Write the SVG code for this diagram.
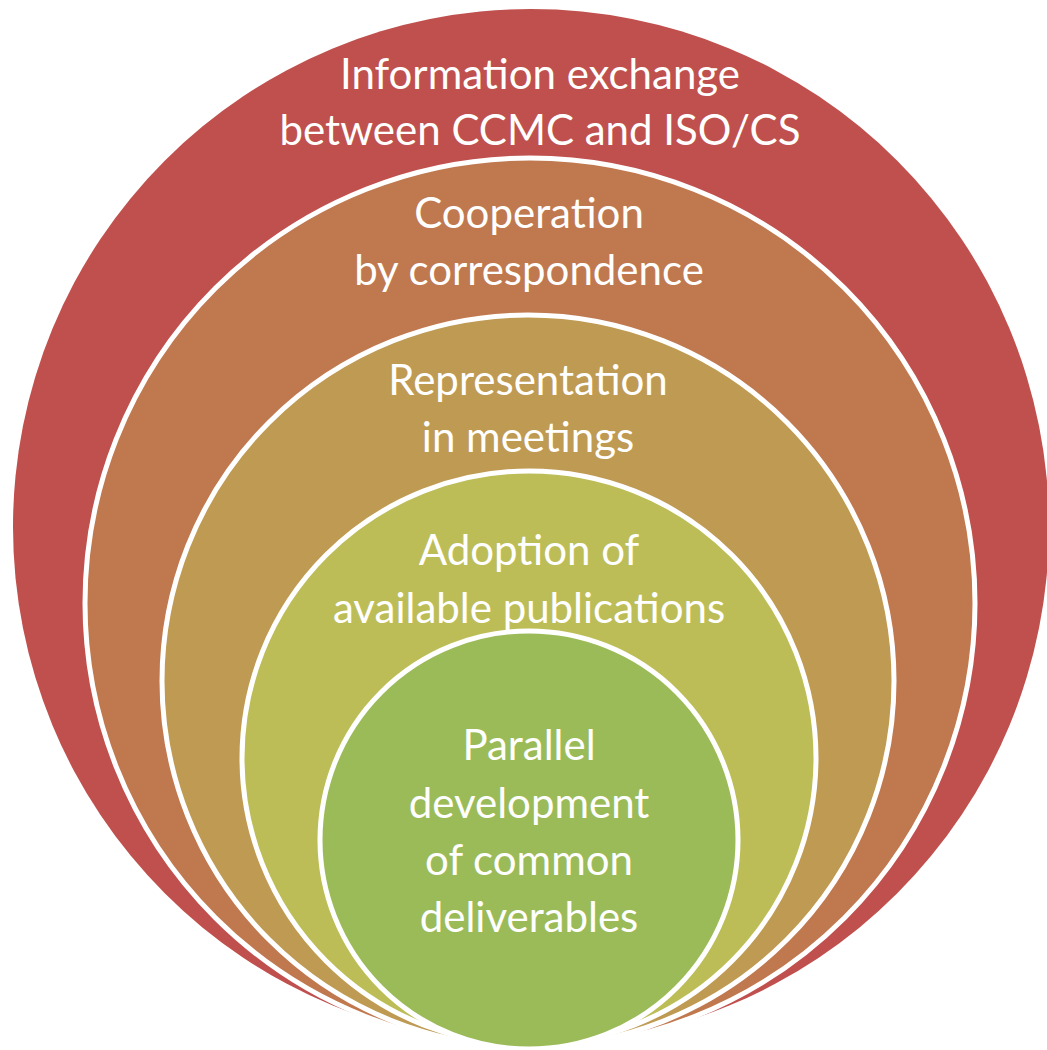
<svg xmlns="http://www.w3.org/2000/svg" width="1047" height="1050" viewBox="0 0 1047 1050">
<style>
.ring{stroke:#ffffff;stroke-width:5}
.lbl{font-family:Lato,"Liberation Sans",sans-serif;font-size:42px;fill:#ffffff;text-anchor:middle}
</style>
<rect width="1047" height="1050" fill="#ffffff"/>
<g id="node-information-exchange">
<circle cx="531" cy="527" r="518" fill="#C0504D"/>
<text class="lbl" x="540" y="89">Information exchange</text>
<text class="lbl" x="540" y="145">between CCMC and ISO/CS</text>
</g>
<g id="node-cooperation">
<circle class="ring" cx="530" cy="603" r="445" fill="#C0784F"/>
<text class="lbl" x="529" y="228">Cooperation</text>
<text class="lbl" x="529" y="285">by correspondence</text>
</g>
<g id="node-representation">
<circle class="ring" cx="528" cy="681" r="366" fill="#BF9A52"/>
<text class="lbl" x="528" y="395">Representation</text>
<text class="lbl" x="528" y="452">in meetings</text>
</g>
<g id="node-adoption">
<circle class="ring" cx="529" cy="758" r="287" fill="#BDBD58"/>
<text class="lbl" x="529" y="565">Adoption of</text>
<text class="lbl" x="529" y="623">available publications</text>
</g>
<g id="node-parallel">
<circle class="ring" cx="529" cy="840" r="209" fill="#9BBB59"/>
<text class="lbl" x="529" y="760">Parallel</text>
<text class="lbl" x="529" y="818">development</text>
<text class="lbl" x="529" y="875">of common</text>
<text class="lbl" x="529" y="932">deliverables</text>
</g>
<g id="connectors"/>
</svg>
